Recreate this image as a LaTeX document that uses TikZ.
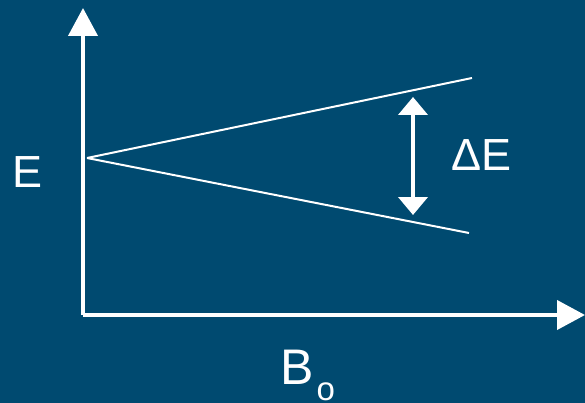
\documentclass[tikz,border=0pt]{standalone}
\usepackage{fontspec}
\setmainfont{Liberation Sans}
\usetikzlibrary{arrows.meta}
\definecolor{bgblue}{RGB}{0,74,112}
\tikzset{
 axis/.style={draw=white,line width=4pt,-{Triangle[length=28pt,width=29pt]}},
 level/.style={draw=white,line width=2pt},
 gap/.style={draw=white,line width=4pt,{Triangle[length=18pt,width=29pt]}-{Triangle[length=18pt,width=29pt]}},
 lbl/.style={text=white,inner sep=0pt}
}
\begin{document}
\begin{tikzpicture}[x=1pt,y=-1pt]
 \fill[bgblue] (0,0) rectangle (585,403);
 \useasboundingbox (0,0) rectangle (585,403);
 % axes
 \coordinate (origin) at (83,315);
 \coordinate (ytop) at (83,8);
 \coordinate (xend) at (585,315);
 \draw[axis] (origin)--(ytop);
 \draw[axis] (origin)--(xend);
 % split levels
 \coordinate (split) at (87,158);
 \coordinate (upper) at (472,78);
 \coordinate (lower) at (469,233);
 \draw[level] (split)--(upper);
 \draw[level] (split)--(lower);
 \coordinate (gtop) at (413,97);
 \coordinate (gbot) at (413,215);
 \draw[gap] (gtop)--(gbot);
 % labels
 \node[lbl,anchor=base west,font=\fontsize{45}{50}\selectfont] (elabel) at (12,188) {E};
 \node[lbl,anchor=base west,font=\fontsize{45}{50}\selectfont] (delabel) at (451,171) {ΔE};
 \node[lbl,anchor=base west,font=\fontsize{50}{56}\selectfont] (blabel) at (280,384)
  {B\kern3pt\raisebox{-16pt}{\fontsize{33}{36}\selectfont o}};
\end{tikzpicture}
\end{document}
